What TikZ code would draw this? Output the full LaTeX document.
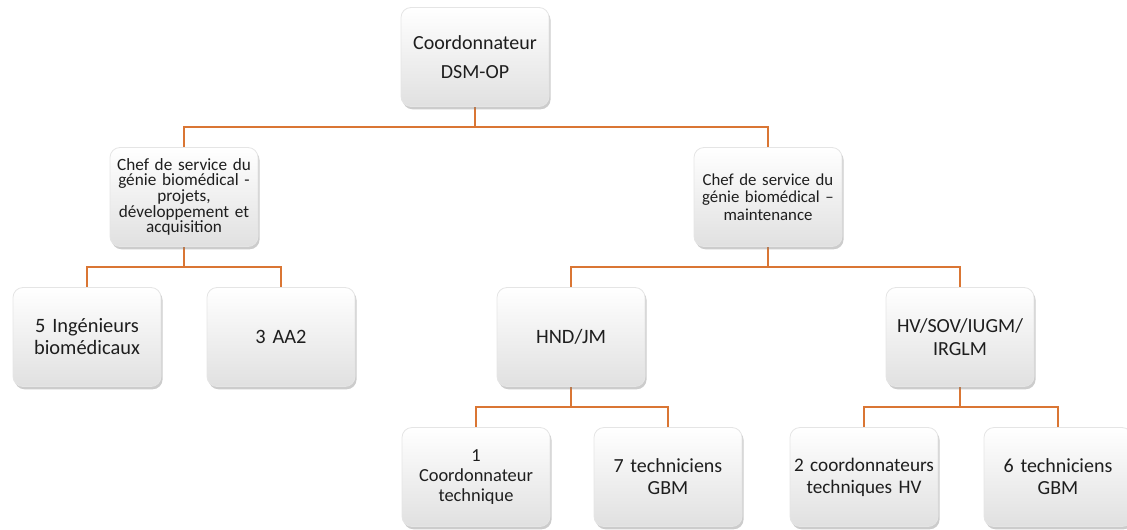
\documentclass[tikz,border=0pt]{standalone}
\usepackage{fontspec}
\setmainfont{Carlito}
\usetikzlibrary{shadows,backgrounds}
\definecolor{linkorange}{RGB}{218,118,52}
\definecolor{boxtext}{RGB}{30,30,30}
\tikzset{
  unit/.style={rectangle, rounded corners=5pt, minimum width=74pt, minimum height=49.5pt,
    text width=72pt, inner sep=1pt, align=center, top color=white, bottom color=black!12,
    draw=black!10, text=boxtext,
    drop shadow={shadow xshift=0.8pt, shadow yshift=-1.4pt, opacity=0.4}},
  link/.style={draw=linkorange, line width=1.1pt},
}
\begin{document}
\begin{tikzpicture}[x=0.5pt,y=-0.5pt]
\useasboundingbox (0,0) rectangle (1127,529);
% top
\node[unit, font=\fontsize{10}{14.5}\selectfont] (coord) at (475,57) {Coordonnateur\\DSM-OP};
% chefs de service
\node[unit, font=\fontsize{8.6}{7.8}\selectfont] (chefpda) at (184,197) {Chef de service du\\génie biomédical -\\projets,\\développement et\\acquisition};
\node[unit, font=\fontsize{8.4}{8.7}\selectfont] (chefmaint) at (768,197) {Chef de service du\\génie biomédical –\\maintenance};
% level 3
\node[unit, font=\fontsize{10.2}{11}\selectfont] (ingbio) at (87,337) {5 Ingénieurs\\biomédicaux};
\node[unit, font=\fontsize{10.2}{11}\selectfont] (aa) at (281,337) {3 AA2};
\node[unit, font=\fontsize{10.2}{11.5}\selectfont] (hnd) at (571,337) {HND/JM};
\node[unit, font=\fontsize{10}{11.5}\selectfont] (hv) at (960,337) {HV/SOV/IUGM/\\IRGLM};
% level 4
\node[unit, font=\fontsize{9.2}{10}\selectfont] (coordtech) at (476,477) {1\\Coordonnateur\\technique};
\node[unit, font=\fontsize{10}{11}\selectfont] (techhnd) at (668,477) {7 techniciens\\GBM};
\node[unit, font=\fontsize{9.6}{11}\selectfont] (coordhv) at (864,477) {2 coordonnateurs\\techniques HV};
\node[unit, font=\fontsize{10}{11}\selectfont] (techhv) at (1058,477) {6 techniciens\\GBM};
% busses
\coordinate (busA) at (475,127);
\coordinate (busB) at (184,267);
\coordinate (busC) at (768,267);
\coordinate (busD) at (571,407);
\coordinate (busE) at (960,407);
\begin{scope}[on background layer]
\draw[link] (coord.south) -- (busA);
\draw[link] (chefpda.north) |- (busA) -| (chefmaint.north);
\draw[link] (chefpda.south) -- (busB);
\draw[link] (ingbio.north) |- (busB) -| (aa.north);
\draw[link] (chefmaint.south) -- (busC);
\draw[link] (hnd.north) |- (busC) -| (hv.north);
\draw[link] (hnd.south) -- (busD);
\draw[link] (coordtech.north) |- (busD) -| (techhnd.north);
\draw[link] (hv.south) -- (busE);
\draw[link] (coordhv.north) |- (busE) -| (techhv.north);
\end{scope}
\end{tikzpicture}
\end{document}
